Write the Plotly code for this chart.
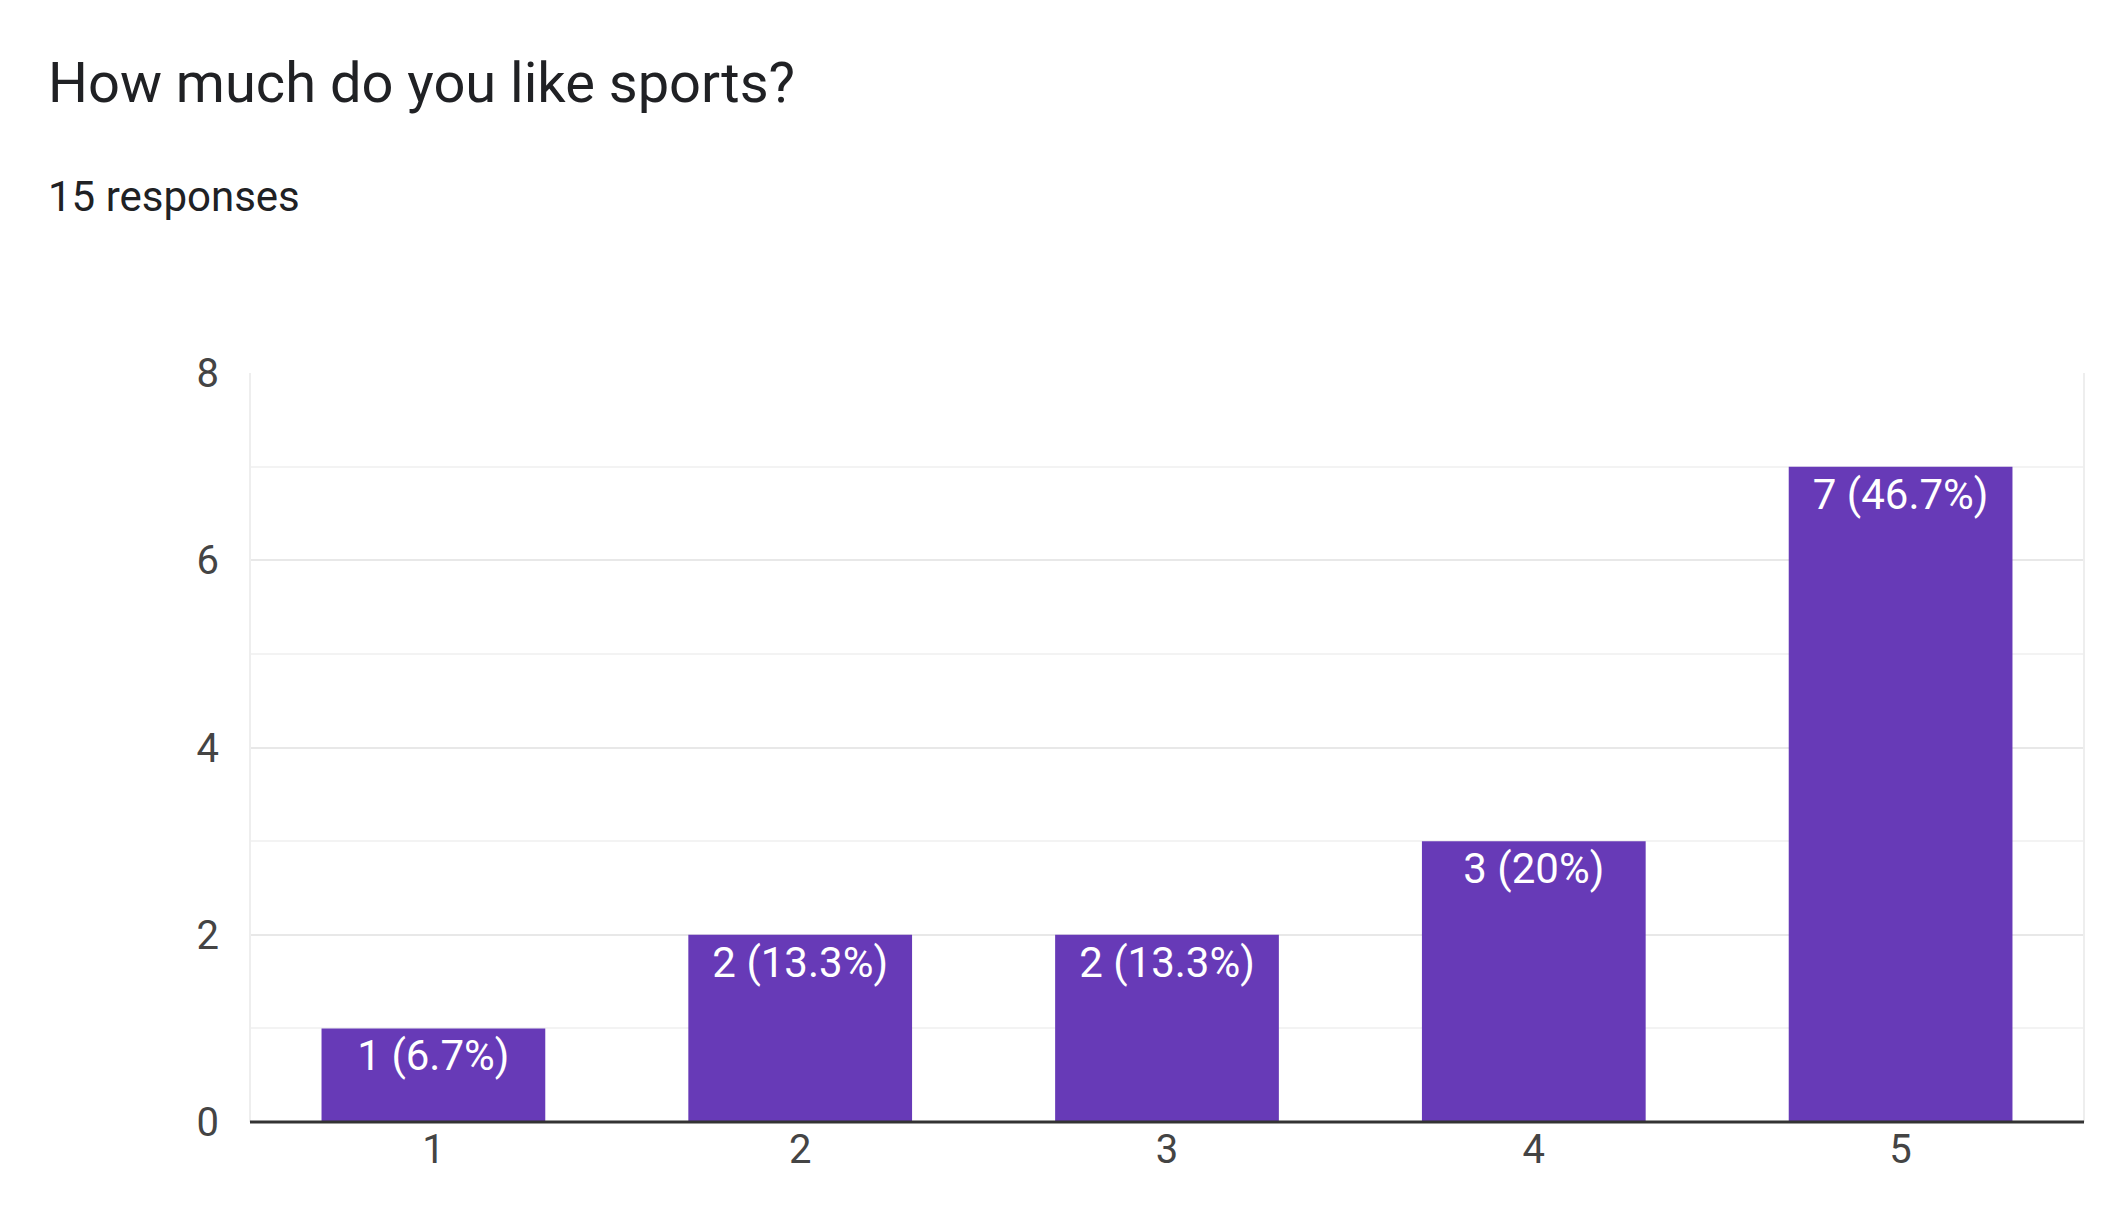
import plotly.graph_objects as go

categories = ["1", "2", "3", "4", "5"]
counts = [1, 2, 2, 3, 7]
labels = ["1 (6.7%)", "2 (13.3%)", "2 (13.3%)", "3 (20%)", "7 (46.7%)"]
y_ticks = [0, 2, 4, 6, 8]

fig = go.Figure(go.Bar(
    x=categories, y=counts, text=labels, textposition="inside",
    insidetextanchor="end", textangle=0,
    textfont=dict(color="white", size=42, family="Roboto"),
    marker=dict(color="#673ab7", line=dict(width=0)), width=0.61,
))
fig.update_layout(
    width=2124, height=1221, plot_bgcolor="white", paper_bgcolor="white",
    margin=dict(l=242, r=48, t=365, b=107), showlegend=False,
    font=dict(family="Roboto", color="#444", size=40),
    annotations=[
        dict(text="How much do you like sports?", x=38, y=1221-75, xref="paper", yref="paper",
             showarrow=False, xanchor="left", yanchor="middle", font=dict(size=56, color="#202124")),
        dict(text="15 responses", x=38, y=1221-188, xref="paper", yref="paper",
             showarrow=False, xanchor="left", yanchor="middle", font=dict(size=42, color="#202124")),
    ],
)
# convert pixel annotation coords to paper
for a in fig.layout.annotations:
    a.x = (a.x - 242) / (2124 - 242 - 48)
    a.y = (a.y - 107) / (1221 - 365 - 107)
fig.update_xaxes(showgrid=False, showline=False, ticks="", tickfont=dict(size=40, color="#444"))
fig.update_yaxes(range=[0, 8], tickvals=y_ticks, gridcolor="#e8e8e8", gridwidth=2,
                 minor=dict(dtick=1, showgrid=True, gridcolor="#f3f3f3", gridwidth=2),
                 zeroline=False, ticks="", ticklabelstandoff=30,
                 tickfont=dict(size=40, color="#444"))
fig.add_shape(type="line", xref="paper", yref="paper", x0=0, x1=0, y0=0, y1=1,
              line=dict(color="#eeeeee", width=2))
fig.add_shape(type="line", xref="paper", yref="paper", x0=1, x1=1, y0=0, y1=1,
              line=dict(color="#eeeeee", width=2))
fig.add_shape(type="line", xref="paper", yref="paper", x0=0, x1=1, y0=0, y1=0,
              line=dict(color="#333333", width=3))
fig.write_html("out.html")
